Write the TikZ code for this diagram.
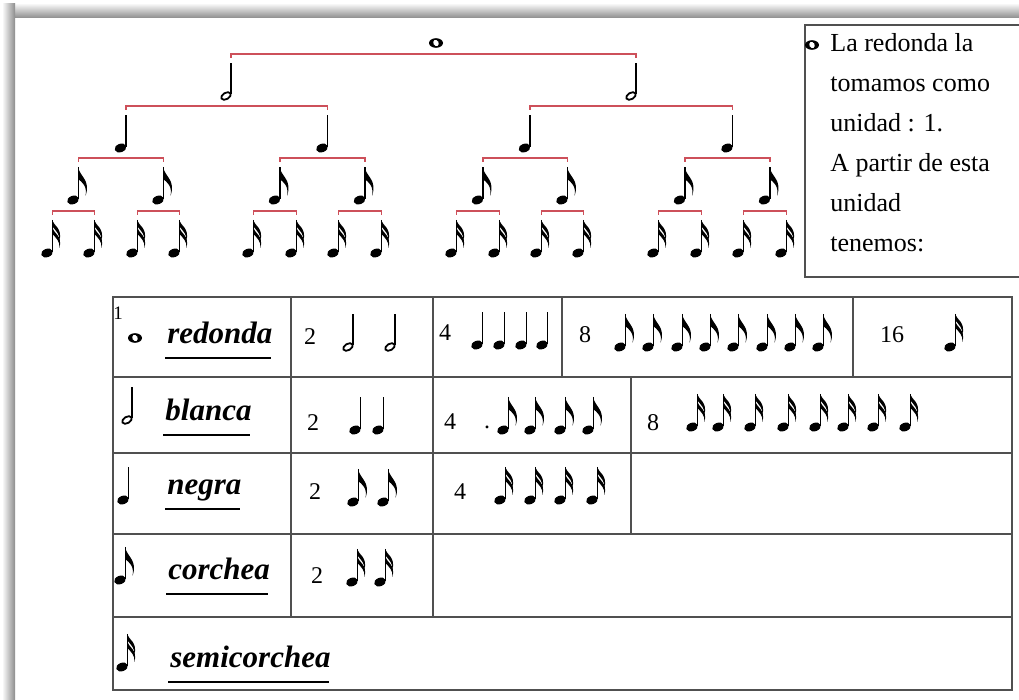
\documentclass[tikz,border=0pt]{standalone}
\usepackage{fontspec}
\setmainfont{Liberation Serif}
\usepackage{tikz}
\definecolor{branchred}{RGB}{205, 80, 90}
\definecolor{linegray}{RGB}{80, 80, 80}

\begin{document}
\begin{tikzpicture}[x=0.5pt, y=-0.5pt,
  notestem/.style={line width=0.8pt},
  branch/.style={color=branchred, line width=0.6pt},
  cell/.style={color=linegray, line width=0.7pt},
  num/.style={font=\fontsize{12}{14}\selectfont, inner sep=0pt, anchor=base},
  figname/.style={font=\fontsize{15.5}{18}\selectfont\bfseries\itshape, inner sep=0pt, anchor=base west},
  pics/whole/.style={code={
    \fill (0,0) ellipse (7 and 4.8);
    \fill[white, rotate=30] (0,0) ellipse (2.6 and 3.2);
  }},
  pics/half/.style={code={
    \draw[line width=0.9pt, rotate=30] (0,0) ellipse (5.2 and 3.2);
    \draw[notestem] (4.9,-1.5) -- (4.9,-33) coordinate (-top);
  }},
  pics/quarter/.style={code={
    \fill[rotate=20] (0,0) ellipse (6 and 4.2);
    \draw[notestem] (5.4,-1) -- (5.4,-33) coordinate (-top);
  }},
  pics/eighth/.style={code={
    \fill[rotate=20] (0,0) ellipse (6 and 4.2);
    \draw[notestem] (5.4,-1) -- (5.4,-33) coordinate (-top);
    \fill (5,-33) .. controls (7,-23) and (18,-20) .. (12.5,-4)
      .. controls (14.5,-14) and (9,-18) .. (5,-21) -- cycle;
  }},
  pics/sixteenth/.style={code={
    \fill[rotate=20] (0,0) ellipse (6 and 4.2);
    \draw[notestem] (5.4,-1) -- (5.4,-33) coordinate (-top);
    \fill (5,-33) .. controls (7,-27) and (15.5,-25) .. (12.5,-12)
      .. controls (13,-19) and (9,-22) .. (5,-27) -- cycle;
    \fill (5,-25.5) .. controls (7,-19.5) and (15.5,-17.5) .. (12.5,-5)
      .. controls (13,-12) and (9,-15) .. (5,-19.5) -- cycle;
  }}]
  \useasboundingbox (0,0) rectangle (1019,700);
  \fill[white] (0,0) rectangle (1019,700);

  % page shadow
  \shade[top color=white, bottom color=black!45] (4,3) rectangle (1019,18);
  \shade[left color=white, right color=black!45] (2,4) rectangle (15,700);

  % the tree: each note splits in two
  \pic (w) at (436,43) {whole};
  \pic (h1) at (226,96) {half};
  \pic (h2) at (631,96) {half};
  \foreach \x [count=\i] in {120.5,322,524.5,727}
    \pic (q\i) at (\x,148) {quarter};
  \foreach \x [count=\i] in {73,158,274.5,359.5,477.5,562,679.5,764.5}
    \pic (e\i) at (\x,200) {eighth};
  \foreach \x [count=\i] in {47,89,132,174,248,291,333,376,451,494,536,578,653,696,738,781}
    \pic (s\i) at (\x,253) {sixteenth};

  \foreach \a/\b in {h1/h2, q1/q2, q3/q4, e1/e2, e3/e4, e5/e6, e7/e8,
                     s1/s2, s3/s4, s5/s6, s7/s8, s9/s10, s11/s12, s13/s14, s15/s16}
    \draw[branch] ([yshift=2.5pt]\a-top) |- ([yshift=4.5pt]\b-top) -- ([yshift=2.5pt]\b-top);

  % side note
  \draw[cell] (1019,25) -- (805,25) -- (805,277) -- (1019,277);
  \pic (bullet) at (812,45) {whole};
  \node[anchor=north west, inner sep=0pt, align=left, font=\fontsize{13}{20}\selectfont]
    (unit) at (830,33) {La redonda la\\tomamos como\\unidad : 1.\\A partir de esta\\unidad\\tenemos:};

  % table
  \draw[cell] (113,297) rectangle (1012,690);
  \foreach \y in {377,453,534,617}
    \draw[cell] (113,\y) -- (1012,\y);
  \draw[cell] (291,297) -- (291,617);
  \draw[cell] (433,297) -- (433,617);
  \draw[cell] (562,297) -- (562,377);
  \draw[cell] (853,297) -- (853,377);
  \draw[cell] (631,377) -- (631,534);

  % first column
  \node[num, font=\fontsize{9.5}{11}\selectfont] (one) at (118,320) {1};
  \pic (rw) at (135,338) {whole};
  \pic (bh) at (127,420) {half};
  \pic (nq) at (123,500) {quarter};
  \pic (ce) at (120,580) {eighth};
  \pic (ss) at (122,667) {sixteenth};

  \node[figname] (redonda) at (167,344) {redonda};
  \node[figname] (blanca) at (165,421) {blanca};
  \node[figname] (negra) at (167,495) {negra};
  \node[figname] (corchea) at (168,580) {corchea};
  \node[figname] (semicorchea) at (170,668) {semicorchea};
  \foreach \n in {redonda,blanca,negra,corchea,semicorchea}
    \draw[line width=0.6pt] ([xshift=-1pt,yshift=-7pt]\n.base west) -- ([xshift=-1pt,yshift=-7pt]\n.base east);

  % how many of each
  \node[num] (r1a) at (310,345) {2};
  \node[num] (r1b) at (445,341) {4};
  \node[num] (r1c) at (585,343) {8};
  \node[num] (r1d) at (892,343) {16};
  \node[num] (r2a) at (313,431) {2};
  \node[num] (r2b) at (450,430) {4};
  \node[num] (r2dot) at (487,429) {.};
  \node[num] (r2c) at (653,431) {8};
  \node[num] (r3a) at (315,500) {2};
  \node[num] (r3b) at (460,500) {4};
  \node[num] (r4a) at (317,583) {2};

  \foreach \x in {348,390} \pic at (\x,347) {half};
  \foreach \x in {477,499,521,542} \pic at (\x,345) {quarter};
  \foreach \x in {620,648,677,705,733,762,790,818} \pic at (\x,347) {eighth};
  \pic at (950,347) {sixteenth};
  \foreach \x in {355,378} \pic at (\x,430) {quarter};
  \foreach \x in {503,530,560,588} \pic at (\x,430) {eighth};
  \foreach \x in {692,718,750,783,815,843,873,905} \pic at (\x,427) {sixteenth};
  \foreach \x in {353,383} \pic at (\x,502) {eighth};
  \foreach \x in {500,530,560,592} \pic at (\x,500) {sixteenth};
  \foreach \x in {352,380} \pic at (\x,582) {sixteenth};
\end{tikzpicture}
\end{document}
